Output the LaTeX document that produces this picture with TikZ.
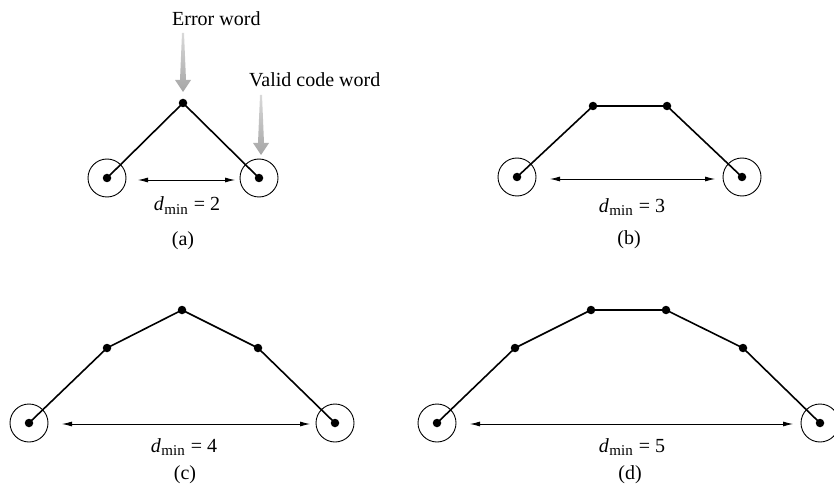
\documentclass[tikz,border=0pt]{standalone}
\usepackage{fontspec}
\setmainfont{Liberation Serif}
\usetikzlibrary{arrows.meta}
\tikzset{
  dot/.style={circle,fill=black,inner sep=0pt,minimum size=8.5pt},
  ring/.style={circle,draw=black,line width=0.9pt,inner sep=0pt,minimum size=38pt},
  edge/.style={line width=1.6pt},
  dist/.style={line width=0.8pt,{Latex[length=10pt,width=5pt]}-{Latex[length=10pt,width=5pt]}},
  lbl/.style={font=\fontsize{20}{22}\selectfont,inner sep=0pt,anchor=base},
  lblw/.style={lbl,anchor=base west},
  graya/.style={top color=gray!30,bottom color=gray!70,draw=none}
}
\newcommand{\dmin}[1]{\textit{d}\kern0.5pt\raisebox{-0.4ex}{\fontsize{15}{15}\selectfont min}\kern1pt{} = #1}
\begin{document}
\begin{tikzpicture}[x=1pt,y=-1pt]
\useasboundingbox (0,0) rectangle (834,494);
% (a)
\node[dot] (a1) at (107,178) {};
\node[dot] (a2) at (183,103) {};
\node[dot] (a3) at (259,178) {};
\node[ring] at (a1) {};
\node[ring] at (a3) {};
\draw[edge] (a1.center) -- (a2.center) -- (a3.center);
\coordinate (al) at (138,180);
\coordinate (ar) at (235,180);
\draw[dist] (al) -- (ar);
\node[lbl] (ad) at (187,211) {\dmin{2}};
\node[lbl] (acap) at (183,245) {(a)};
\node[lblw] (ew) at (172,26) {Error word};
\node[lblw] (vw) at (249,87) {Valid code word};
\shade[graya] (182,33) -- (184,33) -- (186,80) -- (191,80) -- (183,92) -- (175,80) -- (180,80) -- cycle;
\shade[graya] (260,95) -- (262,95) -- (264,143) -- (269,143) -- (261,155) -- (253,143) -- (258,143) -- cycle;
% (b)
\node[dot] (b1) at (517,177) {};
\node[dot] (b2) at (593,106) {};
\node[dot] (b3) at (667,106) {};
\node[dot] (b4) at (742,177) {};
\node[ring] at (b1) {};
\node[ring] at (b4) {};
\draw[edge] (b1.center) -- (b2.center) -- (b3.center) -- (b4.center);
\coordinate (bl) at (550,179);
\coordinate (br) at (715,179);
\draw[dist] (bl) -- (br);
\node[lbl] (bd) at (632,212) {\dmin{3}};
\node[lbl] (bcap) at (629,244) {(b)};
% (c)
\node[dot] (c1) at (29,423) {};
\node[dot] (c2) at (107,348) {};
\node[dot] (c3) at (182,310) {};
\node[dot] (c4) at (258,348) {};
\node[dot] (c5) at (335,423) {};
\node[ring] at (c1) {};
\node[ring] at (c5) {};
\draw[edge] (c1.center) -- (c2.center) -- (c3.center) -- (c4.center) -- (c5.center);
\coordinate (cl) at (62,424);
\coordinate (cr) at (310,424);
\draw[dist] (cl) -- (cr);
\node[lbl] (cd) at (184,452) {\dmin{4}};
\node[lbl] (ccap) at (185,479) {(c)};
% (d)
\node[dot] (d1) at (437,423) {};
\node[dot] (d2) at (515,348) {};
\node[dot] (d3) at (591,310) {};
\node[dot] (d4) at (666,310) {};
\node[dot] (d5) at (743,348) {};
\node[dot] (d6) at (820,423) {};
\node[ring] at (d1) {};
\node[ring] at (d6) {};
\draw[edge] (d1.center) -- (d2.center) -- (d3.center) -- (d4.center) -- (d5.center) -- (d6.center);
\coordinate (dl) at (470,424);
\coordinate (dr) at (793,424);
\draw[dist] (dl) -- (dr);
\node[lbl] (dd) at (632,452) {\dmin{5}};
\node[lbl] (dcap) at (630,479) {(d)};
\end{tikzpicture}
\end{document}
